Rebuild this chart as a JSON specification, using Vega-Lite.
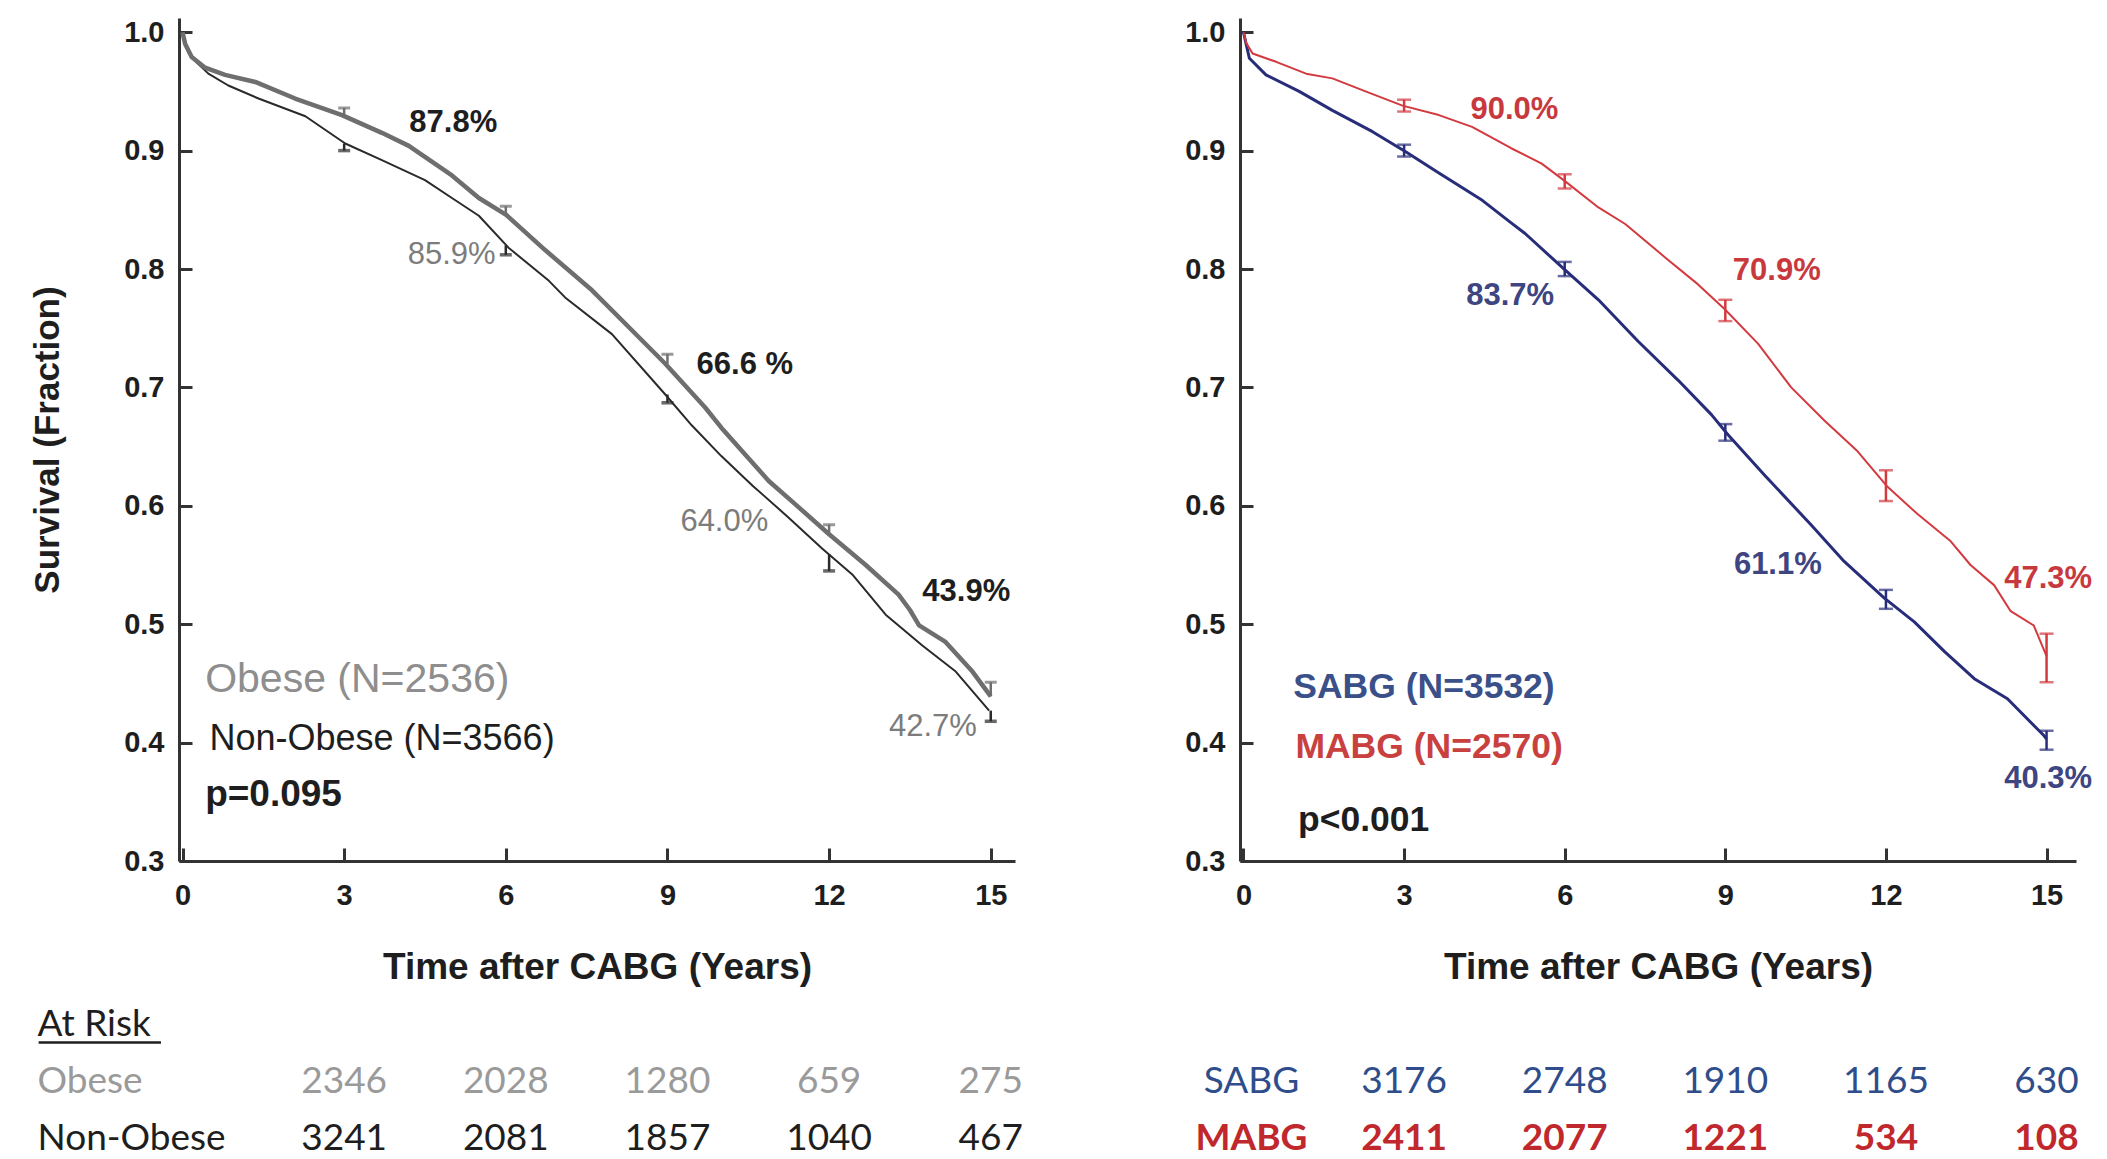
{
  "$schema": "https://vega.github.io/schema/vega-lite/v6.json",
  "autosize": {"type": "pad"},
  "padding": {"left": 30, "top": 18, "right": 0, "bottom": 0},
  "background": "white",
  "columns": 2,
  "bounds": "flush",
  "spacing": {"row": 135, "column": 225},
  "config": {
    "view": {"stroke": null},
    "font": "Liberation Sans"
  },
  "datasets": {
    "leftCurves": [
      {"group": "Non-Obese", "t": 0, "s": 1.0},
      {"group": "Non-Obese", "t": 0.1, "s": 0.985},
      {"group": "Non-Obese", "t": 0.25, "s": 0.975},
      {"group": "Non-Obese", "t": 0.48, "s": 0.965},
      {"group": "Non-Obese", "t": 0.85, "s": 0.955},
      {"group": "Non-Obese", "t": 1.41, "s": 0.944},
      {"group": "Non-Obese", "t": 2.28, "s": 0.929},
      {"group": "Non-Obese", "t": 3.02, "s": 0.906},
      {"group": "Non-Obese", "t": 3.7, "s": 0.892},
      {"group": "Non-Obese", "t": 4.5, "s": 0.875},
      {"group": "Non-Obese", "t": 5.0, "s": 0.86},
      {"group": "Non-Obese", "t": 5.5, "s": 0.845},
      {"group": "Non-Obese", "t": 6.05, "s": 0.818},
      {"group": "Non-Obese", "t": 6.8, "s": 0.79},
      {"group": "Non-Obese", "t": 7.1, "s": 0.776},
      {"group": "Non-Obese", "t": 7.97, "s": 0.745},
      {"group": "Non-Obese", "t": 8.96, "s": 0.694},
      {"group": "Non-Obese", "t": 9.45, "s": 0.668},
      {"group": "Non-Obese", "t": 10.0, "s": 0.642},
      {"group": "Non-Obese", "t": 10.58, "s": 0.617},
      {"group": "Non-Obese", "t": 11.25, "s": 0.59},
      {"group": "Non-Obese", "t": 11.87, "s": 0.564},
      {"group": "Non-Obese", "t": 12.43, "s": 0.542},
      {"group": "Non-Obese", "t": 13.05, "s": 0.508},
      {"group": "Non-Obese", "t": 13.73, "s": 0.482},
      {"group": "Non-Obese", "t": 14.35, "s": 0.46},
      {"group": "Non-Obese", "t": 14.97, "s": 0.427},
      {"group": "Obese", "t": 0, "s": 1.0},
      {"group": "Obese", "t": 0.05, "s": 0.99},
      {"group": "Obese", "t": 0.17, "s": 0.979},
      {"group": "Obese", "t": 0.42, "s": 0.97},
      {"group": "Obese", "t": 0.79, "s": 0.964},
      {"group": "Obese", "t": 1.35, "s": 0.958},
      {"group": "Obese", "t": 2.09, "s": 0.944},
      {"group": "Obese", "t": 2.96, "s": 0.93},
      {"group": "Obese", "t": 3.7, "s": 0.915},
      {"group": "Obese", "t": 4.2, "s": 0.904},
      {"group": "Obese", "t": 5.0, "s": 0.879},
      {"group": "Obese", "t": 5.5, "s": 0.86},
      {"group": "Obese", "t": 6.0, "s": 0.846},
      {"group": "Obese", "t": 6.73, "s": 0.816},
      {"group": "Obese", "t": 7.6, "s": 0.782},
      {"group": "Obese", "t": 8.28, "s": 0.751},
      {"group": "Obese", "t": 8.96, "s": 0.72},
      {"group": "Obese", "t": 9.7, "s": 0.683},
      {"group": "Obese", "t": 10.0, "s": 0.666},
      {"group": "Obese", "t": 10.45, "s": 0.643},
      {"group": "Obese", "t": 10.88, "s": 0.621},
      {"group": "Obese", "t": 11.38, "s": 0.601},
      {"group": "Obese", "t": 12.0, "s": 0.576},
      {"group": "Obese", "t": 12.68, "s": 0.55},
      {"group": "Obese", "t": 13.29, "s": 0.525},
      {"group": "Obese", "t": 13.5, "s": 0.512},
      {"group": "Obese", "t": 13.67, "s": 0.499},
      {"group": "Obese", "t": 14.16, "s": 0.485},
      {"group": "Obese", "t": 14.66, "s": 0.46},
      {"group": "Obese", "t": 15.0, "s": 0.439}
    ],
    "leftCI": [
      {"group": "Obese", "t": 3, "lo": 0.929, "hi": 0.936},
      {"group": "Obese", "t": 6, "lo": 0.846, "hi": 0.853},
      {"group": "Obese", "t": 9, "lo": 0.72, "hi": 0.728},
      {"group": "Obese", "t": 12, "lo": 0.576, "hi": 0.584},
      {"group": "Obese", "t": 15, "lo": 0.439, "hi": 0.451},
      {"group": "Non-Obese", "t": 3, "lo": 0.9, "hi": 0.906},
      {"group": "Non-Obese", "t": 6, "lo": 0.812, "hi": 0.82},
      {"group": "Non-Obese", "t": 9, "lo": 0.687, "hi": 0.694},
      {"group": "Non-Obese", "t": 12, "lo": 0.545, "hi": 0.559},
      {"group": "Non-Obese", "t": 15, "lo": 0.418, "hi": 0.427}
    ],
    "leftLabels": [
      {"group": "Obese", "t": 4.21, "s": 0.923, "text": "87.8%"},
      {"group": "Obese", "t": 9.54, "s": 0.719, "text": "66.6 %"},
      {"group": "Obese", "t": 13.73, "s": 0.527, "text": "43.9%"},
      {"group": "Non-Obese", "t": 4.18, "s": 0.812, "text": "85.9%"},
      {"group": "Non-Obese", "t": 9.24, "s": 0.586, "text": "64.0%"},
      {"group": "Non-Obese", "t": 13.11, "s": 0.413, "text": "42.7%"}
    ],
    "leftLegend": [
      {"key": "Obese", "t": 0.42, "s": 0.453, "text": "Obese (N=2536)"},
      {"key": "Non-Obese", "t": 0.5, "s": 0.403, "text": "Non-Obese (N=3566)"},
      {"key": "p", "t": 0.42, "s": 0.356, "text": "p=0.095"}
    ],
    "atRiskHeader": [
      {"group": "At Risk", "from": -2.67, "to": -0.4}
    ],
    "leftRisk": [
      {"group": "Obese", "t": 3, "n": 2346},
      {"group": "Obese", "t": 6, "n": 2028},
      {"group": "Obese", "t": 9, "n": 1280},
      {"group": "Obese", "t": 12, "n": 659},
      {"group": "Obese", "t": 15, "n": 275},
      {"group": "Non-Obese", "t": 3, "n": 3241},
      {"group": "Non-Obese", "t": 6, "n": 2081},
      {"group": "Non-Obese", "t": 9, "n": 1857},
      {"group": "Non-Obese", "t": 12, "n": 1040},
      {"group": "Non-Obese", "t": 15, "n": 467}
    ],
    "rightCurves": [
      {"group": "SABG", "t": 0, "s": 1.0},
      {"group": "SABG", "t": 0.05, "s": 0.99},
      {"group": "SABG", "t": 0.11, "s": 0.978},
      {"group": "SABG", "t": 0.42, "s": 0.964},
      {"group": "SABG", "t": 1.04, "s": 0.95},
      {"group": "SABG", "t": 1.66, "s": 0.934},
      {"group": "SABG", "t": 2.41, "s": 0.916},
      {"group": "SABG", "t": 3.03, "s": 0.899},
      {"group": "SABG", "t": 3.65, "s": 0.881},
      {"group": "SABG", "t": 4.46, "s": 0.858},
      {"group": "SABG", "t": 5.0, "s": 0.839},
      {"group": "SABG", "t": 5.26, "s": 0.83},
      {"group": "SABG", "t": 6.01, "s": 0.799},
      {"group": "SABG", "t": 6.63, "s": 0.774},
      {"group": "SABG", "t": 7.37, "s": 0.739},
      {"group": "SABG", "t": 8.12, "s": 0.706},
      {"group": "SABG", "t": 8.74, "s": 0.677},
      {"group": "SABG", "t": 9.05, "s": 0.66},
      {"group": "SABG", "t": 9.73, "s": 0.626},
      {"group": "SABG", "t": 10.6, "s": 0.584},
      {"group": "SABG", "t": 11.22, "s": 0.553},
      {"group": "SABG", "t": 11.97, "s": 0.522},
      {"group": "SABG", "t": 12.53, "s": 0.502},
      {"group": "SABG", "t": 13.09, "s": 0.477},
      {"group": "SABG", "t": 13.65, "s": 0.454},
      {"group": "SABG", "t": 14.27, "s": 0.437},
      {"group": "SABG", "t": 14.95, "s": 0.406},
      {"group": "SABG", "t": 15.0, "s": 0.403},
      {"group": "MABG", "t": 0, "s": 1.0},
      {"group": "MABG", "t": 0.05, "s": 0.991},
      {"group": "MABG", "t": 0.17, "s": 0.982},
      {"group": "MABG", "t": 0.61, "s": 0.975},
      {"group": "MABG", "t": 1.17, "s": 0.965},
      {"group": "MABG", "t": 1.66, "s": 0.961},
      {"group": "MABG", "t": 2.28, "s": 0.95},
      {"group": "MABG", "t": 2.97, "s": 0.938},
      {"group": "MABG", "t": 3.65, "s": 0.93},
      {"group": "MABG", "t": 4.27, "s": 0.92},
      {"group": "MABG", "t": 5.0, "s": 0.902},
      {"group": "MABG", "t": 5.57, "s": 0.889},
      {"group": "MABG", "t": 6.01, "s": 0.874},
      {"group": "MABG", "t": 6.63, "s": 0.852},
      {"group": "MABG", "t": 7.13, "s": 0.838},
      {"group": "MABG", "t": 7.87, "s": 0.81},
      {"group": "MABG", "t": 8.49, "s": 0.787},
      {"group": "MABG", "t": 8.99, "s": 0.766},
      {"group": "MABG", "t": 9.61, "s": 0.737},
      {"group": "MABG", "t": 10.23, "s": 0.7},
      {"group": "MABG", "t": 10.85, "s": 0.672},
      {"group": "MABG", "t": 11.47, "s": 0.646},
      {"group": "MABG", "t": 12.03, "s": 0.616},
      {"group": "MABG", "t": 12.59, "s": 0.593},
      {"group": "MABG", "t": 13.21, "s": 0.57},
      {"group": "MABG", "t": 13.58, "s": 0.55},
      {"group": "MABG", "t": 14.02, "s": 0.533},
      {"group": "MABG", "t": 14.33, "s": 0.511},
      {"group": "MABG", "t": 14.76, "s": 0.499},
      {"group": "MABG", "t": 15.0, "s": 0.473}
    ],
    "rightCI": [
      {"group": "MABG", "t": 3, "lo": 0.933, "hi": 0.943},
      {"group": "MABG", "t": 6, "lo": 0.868, "hi": 0.88},
      {"group": "MABG", "t": 9, "lo": 0.756, "hi": 0.774},
      {"group": "MABG", "t": 12, "lo": 0.604, "hi": 0.63},
      {"group": "MABG", "t": 15, "lo": 0.451, "hi": 0.492},
      {"group": "SABG", "t": 3, "lo": 0.895, "hi": 0.905},
      {"group": "SABG", "t": 6, "lo": 0.794, "hi": 0.806},
      {"group": "SABG", "t": 9, "lo": 0.655, "hi": 0.669},
      {"group": "SABG", "t": 12, "lo": 0.513, "hi": 0.529},
      {"group": "SABG", "t": 15, "lo": 0.394, "hi": 0.41}
    ],
    "rightLabels": [
      {"group": "MABG", "t": 4.24, "s": 0.934, "text": "90.0%"},
      {"group": "MABG", "t": 9.14, "s": 0.798, "text": "70.9%"},
      {"group": "MABG", "t": 14.21, "s": 0.538, "text": "47.3%"},
      {"group": "SABG", "t": 4.16, "s": 0.777, "text": "83.7%"},
      {"group": "SABG", "t": 9.16, "s": 0.55, "text": "61.1%"},
      {"group": "SABG", "t": 14.21, "s": 0.369, "text": "40.3%"}
    ],
    "rightLegend": [
      {"key": "SABG", "t": 0.93, "s": 0.447, "text": "SABG (N=3532)"},
      {"key": "MABG", "t": 0.97, "s": 0.396, "text": "MABG (N=2570)"},
      {"key": "p", "t": 1.02, "s": 0.335, "text": "p<0.001"}
    ],
    "rightRisk": [
      {"group": "SABG", "t": 3, "n": 3176},
      {"group": "SABG", "t": 6, "n": 2748},
      {"group": "SABG", "t": 9, "n": 1910},
      {"group": "SABG", "t": 12, "n": 1165},
      {"group": "SABG", "t": 15, "n": 630},
      {"group": "MABG", "t": 3, "n": 2411},
      {"group": "MABG", "t": 6, "n": 2077},
      {"group": "MABG", "t": 9, "n": 1221},
      {"group": "MABG", "t": 12, "n": 534},
      {"group": "MABG", "t": 15, "n": 108}
    ]
  },
  "concat": [
    {
      "width": 836,
      "height": 843,
      "encoding": {
        "x": {
          "field": "t", "type": "quantitative",
          "scale": {"domain": [-0.065, 15.45], "nice": false, "zero": false},
          "axis": {
            "values": [0, 3, 6, 9, 12, 15], "format": "d",
            "title": "Time after CABG (Years)",
            "domainColor": "#333", "domainWidth": 3, "tickColor": "#333", "tickWidth": 3, "tickSize": -13,
            "labelFont": "Liberation Sans", "labelFontSize": 29, "labelFontWeight": "bold", "labelColor": "#1e1e1e", "labelPadding": 33, "labelFlush": false,
            "titleFont": "Liberation Sans", "titleFontSize": 37, "titleFontWeight": "bold", "titleColor": "#1e1e1e", "titlePadding": 39,
            "grid": false
          }
        },
        "y": {
          "field": "s", "type": "quantitative",
          "scale": {"domain": [0.3, 1.012], "nice": false, "zero": false},
          "axis": {
            "values": [0.3, 0.4, 0.5, 0.6, 0.7, 0.8, 0.9, 1.0], "format": ".1f",
            "title": "Survival (Fraction)",
            "domainColor": "#333", "domainWidth": 3, "tickColor": "#333", "tickWidth": 3, "tickSize": -13,
            "labelFont": "Liberation Sans", "labelFontSize": 29, "labelFontWeight": "bold", "labelColor": "#1e1e1e", "labelPadding": 28, "labelFlush": false,
            "titleFont": "Liberation Sans", "titleFontSize": 35, "titleFontWeight": "bold", "titleColor": "#1e1e1e", "titlePadding": 58,
            "grid": false
          }
        }
      },
      "layer": [
        {
          "data": {"name": "leftCurves"},
          "transform": [{"filter": "datum.group == 'Non-Obese'"}],
          "mark": {"type": "line", "interpolate": "linear", "strokeJoin": "round", "color": "#2a2a2a", "strokeWidth": 2}
        },
        {
          "data": {"name": "leftCurves"},
          "transform": [{"filter": "datum.group == 'Obese'"}],
          "mark": {"type": "line", "interpolate": "linear", "strokeJoin": "round", "color": "#6e6e6e", "strokeWidth": 4.5}
        },
        {
          "data": {"name": "leftCI"},
          "transform": [{"filter": "datum.group == 'Obese'"}],
          "mark": {"type": "rule", "color": "#6e6e6e", "strokeWidth": 2.5},
          "encoding": {"y": {"field": "lo", "type": "quantitative"}, "y2": {"field": "hi"}}
        },
        {
          "data": {"name": "leftCI"},
          "transform": [{"filter": "datum.group == 'Obese'"}],
          "mark": {"type": "tick", "orient": "horizontal", "color": "#6e6e6e", "size": 12, "thickness": 3},
          "encoding": {"y": {"field": "hi", "type": "quantitative"}}
        },
        {
          "data": {"name": "leftCI"},
          "transform": [{"filter": "datum.group == 'Non-Obese'"}],
          "mark": {"type": "rule", "color": "#2a2a2a", "strokeWidth": 2.5},
          "encoding": {"y": {"field": "lo", "type": "quantitative"}, "y2": {"field": "hi"}}
        },
        {
          "data": {"name": "leftCI"},
          "transform": [{"filter": "datum.group == 'Non-Obese'"}],
          "mark": {"type": "tick", "orient": "horizontal", "color": "#2a2a2a", "size": 12, "thickness": 3.5},
          "encoding": {"y": {"field": "lo", "type": "quantitative"}}
        },
        {
          "data": {"name": "leftLabels"},
          "transform": [{"filter": "datum.group == 'Obese'"}],
          "mark": {"type": "text", "align": "left", "baseline": "middle", "font": "Liberation Sans", "fontSize": 31, "fontWeight": "bold", "color": "#1e1e1e"},
          "encoding": {"text": {"field": "text"}}
        },
        {
          "data": {"name": "leftLabels"},
          "transform": [{"filter": "datum.group == 'Non-Obese'"}],
          "mark": {"type": "text", "align": "left", "baseline": "middle", "font": "Liberation Sans", "fontSize": 31, "fontWeight": "normal", "color": "#7c7c7c"},
          "encoding": {"text": {"field": "text"}}
        },
        {
          "data": {"name": "leftLegend"},
          "transform": [{"filter": "datum.key == 'Obese'"}],
          "mark": {"type": "text", "align": "left", "baseline": "middle", "font": "Liberation Sans", "fontSize": 41, "color": "#8e8e8e"},
          "encoding": {"text": {"field": "text"}}
        },
        {
          "data": {"name": "leftLegend"},
          "transform": [{"filter": "datum.key == 'Non-Obese'"}],
          "mark": {"type": "text", "align": "left", "baseline": "middle", "font": "Liberation Sans", "fontSize": 36, "color": "#1e1e1e"},
          "encoding": {"text": {"field": "text"}}
        },
        {
          "data": {"name": "leftLegend"},
          "transform": [{"filter": "datum.key == 'p'"}],
          "mark": {"type": "text", "align": "left", "baseline": "middle", "font": "Liberation Sans", "fontSize": 37, "fontWeight": "bold", "color": "#1e1e1e"},
          "encoding": {"text": {"field": "text"}}
        }
      ]
    },
    {
      "width": 836,
      "height": 843,
      "encoding": {
        "x": {
          "field": "t", "type": "quantitative",
          "scale": {"domain": [-0.065, 15.55], "nice": false, "zero": false},
          "axis": {
            "values": [0, 3, 6, 9, 12, 15], "format": "d",
            "title": "Time after CABG (Years)",
            "domainColor": "#333", "domainWidth": 3, "tickColor": "#333", "tickWidth": 3, "tickSize": -13,
            "labelFont": "Liberation Sans", "labelFontSize": 29, "labelFontWeight": "bold", "labelColor": "#1e1e1e", "labelPadding": 33, "labelFlush": false,
            "titleFont": "Liberation Sans", "titleFontSize": 37, "titleFontWeight": "bold", "titleColor": "#1e1e1e", "titlePadding": 39,
            "grid": false
          }
        },
        "y": {
          "field": "s", "type": "quantitative",
          "scale": {"domain": [0.3, 1.012], "nice": false, "zero": false},
          "axis": {
            "values": [0.3, 0.4, 0.5, 0.6, 0.7, 0.8, 0.9, 1.0], "format": ".1f",
            "title": null,
            "domainColor": "#333", "domainWidth": 3, "tickColor": "#333", "tickWidth": 3, "tickSize": -13,
            "labelFont": "Liberation Sans", "labelFontSize": 29, "labelFontWeight": "bold", "labelColor": "#1e1e1e", "labelPadding": 28, "labelFlush": false,
            "grid": false
          }
        }
      },
      "layer": [
        {
          "data": {"name": "rightCurves"},
          "transform": [{"filter": "datum.group == 'SABG'"}],
          "mark": {"type": "line", "interpolate": "linear", "strokeJoin": "round", "color": "#282d7a", "strokeWidth": 3}
        },
        {
          "data": {"name": "rightCurves"},
          "transform": [{"filter": "datum.group == 'MABG'"}],
          "mark": {"type": "line", "interpolate": "linear", "strokeJoin": "round", "color": "#d23a40", "strokeWidth": 2}
        },
        {
          "data": {"name": "rightCI"},
          "transform": [{"filter": "datum.group == 'SABG'"}],
          "mark": {"type": "rule", "color": "#282d7a", "strokeWidth": 2.5},
          "encoding": {"y": {"field": "lo", "type": "quantitative"}, "y2": {"field": "hi"}}
        },
        {
          "data": {"name": "rightCI"},
          "transform": [{"filter": "datum.group == 'SABG'"}],
          "mark": {"type": "tick", "orient": "horizontal", "color": "#282d7a", "size": 14, "thickness": 2.5},
          "encoding": {"y": {"field": "lo", "type": "quantitative"}}
        },
        {
          "data": {"name": "rightCI"},
          "transform": [{"filter": "datum.group == 'SABG'"}],
          "mark": {"type": "tick", "orient": "horizontal", "color": "#282d7a", "size": 14, "thickness": 2.5},
          "encoding": {"y": {"field": "hi", "type": "quantitative"}}
        },
        {
          "data": {"name": "rightCI"},
          "transform": [{"filter": "datum.group == 'MABG'"}],
          "mark": {"type": "rule", "color": "#d23a40", "strokeWidth": 2.5},
          "encoding": {"y": {"field": "lo", "type": "quantitative"}, "y2": {"field": "hi"}}
        },
        {
          "data": {"name": "rightCI"},
          "transform": [{"filter": "datum.group == 'MABG'"}],
          "mark": {"type": "tick", "orient": "horizontal", "color": "#d23a40", "size": 14, "thickness": 2.5},
          "encoding": {"y": {"field": "lo", "type": "quantitative"}}
        },
        {
          "data": {"name": "rightCI"},
          "transform": [{"filter": "datum.group == 'MABG'"}],
          "mark": {"type": "tick", "orient": "horizontal", "color": "#d23a40", "size": 14, "thickness": 2.5},
          "encoding": {"y": {"field": "hi", "type": "quantitative"}}
        },
        {
          "data": {"name": "rightLabels"},
          "transform": [{"filter": "datum.group == 'MABG'"}],
          "mark": {"type": "text", "align": "left", "baseline": "middle", "font": "Liberation Sans", "fontSize": 31, "fontWeight": "bold", "color": "#c8393e"},
          "encoding": {"text": {"field": "text"}}
        },
        {
          "data": {"name": "rightLabels"},
          "transform": [{"filter": "datum.group == 'SABG'"}],
          "mark": {"type": "text", "align": "left", "baseline": "middle", "font": "Liberation Sans", "fontSize": 31, "fontWeight": "bold", "color": "#3e4580"},
          "encoding": {"text": {"field": "text"}}
        },
        {
          "data": {"name": "rightLegend"},
          "transform": [{"filter": "datum.key == 'SABG'"}],
          "mark": {"type": "text", "align": "left", "baseline": "middle", "font": "Liberation Sans", "fontSize": 35.5, "fontWeight": "bold", "color": "#3b5089"},
          "encoding": {"text": {"field": "text"}}
        },
        {
          "data": {"name": "rightLegend"},
          "transform": [{"filter": "datum.key == 'MABG'"}],
          "mark": {"type": "text", "align": "left", "baseline": "middle", "font": "Liberation Sans", "fontSize": 35.5, "fontWeight": "bold", "color": "#c9413f"},
          "encoding": {"text": {"field": "text"}}
        },
        {
          "data": {"name": "rightLegend"},
          "transform": [{"filter": "datum.key == 'p'"}],
          "mark": {"type": "text", "align": "left", "baseline": "middle", "font": "Liberation Sans", "fontSize": 35.5, "fontWeight": "bold", "color": "#1e1e1e"},
          "encoding": {"text": {"field": "text"}}
        }
      ]
    },
    {
      "width": 836,
      "height": 171,
      "data": {"name": "leftRisk"},
      "encoding": {
        "y": {
          "field": "group", "type": "nominal",
          "scale": {"domain": ["At Risk", "Obese", "Non-Obese"], "paddingInner": 0, "paddingOuter": 0},
          "axis": {
            "title": null, "domain": false, "ticks": false, "grid": false,
            "labelAlign": "left", "labelBaseline": "middle", "labelPadding": 142, "labelLimit": 0,
            "labelFont": "Lato", "labelFontSize": 37,
            "labelColor": {"condition": {"test": "datum.value == 'Obese'", "value": "#9a9a9a"}, "value": "#1e1e1e"}
          }
        }
      },
      "layer": [
        {
          "transform": [{"filter": "datum.group == 'Obese'"}],
          "mark": {"type": "text", "align": "center", "baseline": "middle", "font": "Lato", "fontSize": 37, "color": "#9a9a9a"},
          "encoding": {
            "x": {"field": "t", "type": "quantitative", "scale": {"domain": [-0.065, 15.45], "nice": false, "zero": false}, "axis": null},
            "text": {"field": "n", "type": "quantitative", "format": "d"}
          }
        },
        {
          "transform": [{"filter": "datum.group == 'Non-Obese'"}],
          "mark": {"type": "text", "align": "center", "baseline": "middle", "font": "Lato", "fontSize": 37, "color": "#1e1e1e"},
          "encoding": {
            "x": {"field": "t", "type": "quantitative", "axis": null},
            "text": {"field": "n", "type": "quantitative", "format": "d"}
          }
        },
        {
          "data": {"name": "atRiskHeader"},
          "mark": {"type": "rule", "color": "#1e1e1e", "strokeWidth": 2.5, "yOffset": 18},
          "encoding": {
            "x": {"field": "from", "type": "quantitative", "axis": null},
            "x2": {"field": "to"}
          }
        }
      ]
    },
    {
      "width": 836,
      "height": 171,
      "data": {"name": "rightRisk"},
      "encoding": {
        "x": {"field": "t", "type": "quantitative", "scale": {"domain": [-0.065, 15.55], "nice": false, "zero": false}, "axis": null},
        "y": {
          "field": "group", "type": "nominal",
          "scale": {"domain": ["At Risk", "SABG", "MABG"], "paddingInner": 0, "paddingOuter": 0},
          "axis": {
            "title": null, "domain": false, "ticks": false, "grid": false,
            "labelExpr": "datum.value == 'At Risk' ? '' : datum.value",
            "labelAlign": "center", "labelBaseline": "middle", "labelPadding": -11, "labelLimit": 0,
            "labelFont": "Lato", "labelFontSize": 37,
            "labelFontWeight": {"condition": {"test": "datum.value == 'MABG'", "value": "bold"}, "value": "normal"},
            "labelColor": {"condition": {"test": "datum.value == 'MABG'", "value": "#c0282d"}, "value": "#2f4d8a"}
          }
        }
      },
      "layer": [
        {
          "transform": [{"filter": "datum.group == 'SABG'"}],
          "mark": {"type": "text", "align": "center", "baseline": "middle", "font": "Lato", "fontSize": 37, "color": "#2f4d8a"},
          "encoding": {"text": {"field": "n", "type": "quantitative", "format": "d"}}
        },
        {
          "transform": [{"filter": "datum.group == 'MABG'"}],
          "mark": {"type": "text", "align": "center", "baseline": "middle", "font": "Lato", "fontSize": 37, "fontWeight": "bold", "color": "#c0282d"},
          "encoding": {"text": {"field": "n", "type": "quantitative", "format": "d"}}
        }
      ]
    }
  ]
}
